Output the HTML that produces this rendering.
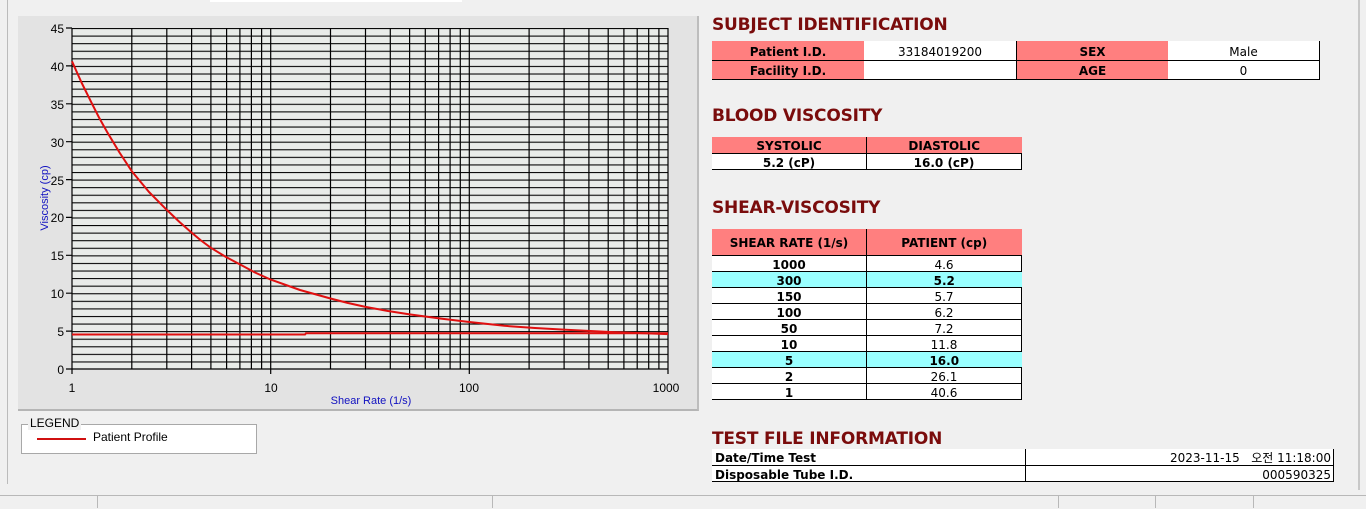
<!DOCTYPE html>
<html><head><meta charset="utf-8"><style>
body{margin:0;width:1366px;height:508px;background:#f0f0f0;position:relative;overflow:hidden;font-family:"Liberation Sans","Noto Sans CJK KR",sans-serif;}
.a{position:absolute}
h2{position:absolute;margin:0;font:bold 17px "DejaVu Sans","Liberation Sans",sans-serif;color:#7a0c0c;letter-spacing:-0.2px}
table{position:absolute;border-collapse:collapse;font-family:"DejaVu Sans","Liberation Sans",sans-serif;font-size:12px;color:#000}
td{padding:3px 0 0 0;text-align:center;line-height:12px;white-space:nowrap}
.p{background:#ff7f7f;font-weight:bold}
.w{background:#fff}
.c{background:#99ffff}
.b{font-weight:bold}
</style></head><body>
<div class="a" style="left:210px;top:0;width:252px;height:2px;background:#fff"></div>
<div class="a" style="left:7px;top:0;width:1px;height:484px;background:#bbb"></div>
<div class="a" style="left:18px;top:16px;width:679px;height:393px;background:#e3e3e3;border-right:2px solid #bdbdbd;border-bottom:2px solid #b5b5b5"></div>
<svg class="a" style="left:0;top:0" width="700" height="420">
<defs><pattern id="hp" patternUnits="userSpaceOnUse" x="0" y="28" width="600" height="7.5778"><line x1="0" y1="0.5" x2="600" y2="0.5" stroke="#000" stroke-width="1.2"/></pattern></defs>
<rect x="72" y="28" width="596" height="341" fill="#e9ece9"/>
<rect x="72" y="28" width="596" height="341" fill="url(#hp)"/>
<g stroke="#000" stroke-width="1.2">
<line x1="72" y1="28" x2="72" y2="374"/><line x1="668" y1="28" x2="668" y2="374"/><line x1="72" y1="369" x2="668" y2="369"/>
<line x1="270.7" y1="28" x2="270.7" y2="374"/><line x1="469.3" y1="28" x2="469.3" y2="374"/>
<path d="M131.8 28V369M166.8 28V369M191.6 28V369M210.9 28V369M226.6 28V369M239.9 28V369M251.4 28V369M261.6 28V369M330.5 28V369M365.5 28V369M390.3 28V369M409.6 28V369M425.3 28V369M438.6 28V369M450.1 28V369M460.3 28V369M529.1 28V369M564.1 28V369M588.9 28V369M608.2 28V369M623.9 28V369M637.2 28V369M648.7 28V369M658.9 28V369"/>
<path d="M66 28H72M66 65.9H72M66 103.8H72M66 141.7H72M66 179.6H72M66 217.4H72M66 255.3H72M66 293.2H72M66 331.1H72M66 369H72"/>
</g>
<g font-family="Liberation Sans Narrow,Liberation Sans,sans-serif" font-size="12" fill="#000" text-anchor="end">
<text x="64" y="33">45</text><text x="64" y="71">40</text><text x="64" y="109">35</text><text x="64" y="147">30</text><text x="64" y="185">25</text><text x="64" y="222">20</text><text x="64" y="260">15</text><text x="64" y="298">10</text><text x="64" y="336">5</text><text x="64" y="374">0</text>
</g>
<g font-family="Liberation Sans,sans-serif" font-size="12" fill="#000" text-anchor="middle">
<text x="72" y="392">1</text><text x="271" y="392">10</text><text x="469" y="392">100</text><text x="666" y="392">1000</text>
</g>
<text x="371" y="404" font-family="Liberation Sans,sans-serif" font-size="11" fill="#1010c0" text-anchor="middle">Shear Rate (1/s)</text>
<text transform="translate(48,198) rotate(-90)" font-family="Liberation Sans,sans-serif" font-size="11" fill="#1010c0" text-anchor="middle">Viscosity (cp)</text>
<polyline fill="none" stroke="#e01010" stroke-width="2" points="72,334.5 305,334.5 306,333.3 668,333.3"/>
<polyline fill="none" stroke="#e01010" stroke-width="2" stroke-linejoin="round" points="72,61.3 81.5,82.5 91.3,102.3 99,117.5 107,131.8 119.5,152.5 131.8,171.2 149,192 166.8,209.9 179.5,222 191.6,232.6 201,240.5 210.9,247.8 226,257 239.9,264.4 255,272.5 270.7,279.6 300,290 330.5,298.5 348,303 365.5,306.9 388,311 409.6,314.4 440,318.5 469.3,322 504.3,325.8 535,328 563.5,329.6 610,332 668,334.1"/>
</svg>
<div class="a" style="left:21px;top:424px;width:234px;height:28px;border:1px solid #a8a8a8;background:#fff"></div>
<div class="a" style="left:28px;top:416px;padding:0 2px;background:#f0f0f0;font-size:12px;line-height:14px">LEGEND</div>
<div class="a" style="left:37px;top:438px;width:49px;height:2px;background:#d01010"></div>
<div class="a" style="left:93px;top:430px;font-size:12px">Patient Profile</div>

<h2 style="left:712px;top:15px">SUBJECT IDENTIFICATION</h2>
<table style="left:712px;top:41px;width:608px">
<tr style="height:19px"><td class="p" style="width:152px">Patient I.D.</td><td class="w" style="width:152px;border-right:1px solid #000">33184019200</td><td class="p" style="width:151px">SEX</td><td class="w" style="border-right:1px solid #000">Male</td></tr>
<tr style="height:19px;border-top:1px solid #000;border-bottom:1px solid #000"><td class="p">Facility I.D.</td><td class="w" style="border-right:1px solid #000"></td><td class="p">AGE</td><td class="w" style="border-right:1px solid #000">0</td></tr>
</table>
<h2 style="left:712px;top:106px">BLOOD VISCOSITY</h2>
<table style="left:712px;top:137px;width:310px">
<tr style="height:16px"><td class="p" style="width:154px;border-right:1px solid #000">SYSTOLIC</td><td class="p">DIASTOLIC</td></tr>
<tr style="height:16px;border-top:1px solid #000;border-bottom:1px solid #000"><td class="w b" style="border-right:1px solid #000">5.2 (cP)</td><td class="w b" style="border-right:1px solid #000">16.0 (cP)</td></tr>
</table>
<h2 style="left:712px;top:198px">SHEAR-VISCOSITY</h2>
<table style="left:712px;top:229px;width:310px">
<tr style="height:26px;border-bottom:1px solid #000"><td class="p" style="width:154px;border-right:1px solid #000">SHEAR RATE (1/s)</td><td class="p">PATIENT (cp)</td></tr>
<tr style="height:16px;border-bottom:1px solid #000"><td class="w b" style="border-right:1px solid #000">1000</td><td class="w" style="border-right:1px solid #000">4.6</td></tr>
<tr style="height:16px;border-bottom:1px solid #000"><td class="c b" style="border-right:1px solid #000">300</td><td class="c b">5.2</td></tr>
<tr style="height:16px;border-bottom:1px solid #000"><td class="w b" style="border-right:1px solid #000">150</td><td class="w" style="border-right:1px solid #000">5.7</td></tr>
<tr style="height:16px;border-bottom:1px solid #000"><td class="w b" style="border-right:1px solid #000">100</td><td class="w" style="border-right:1px solid #000">6.2</td></tr>
<tr style="height:16px;border-bottom:1px solid #000"><td class="w b" style="border-right:1px solid #000">50</td><td class="w" style="border-right:1px solid #000">7.2</td></tr>
<tr style="height:16px;border-bottom:1px solid #000"><td class="w b" style="border-right:1px solid #000">10</td><td class="w" style="border-right:1px solid #000">11.8</td></tr>
<tr style="height:16px;border-bottom:1px solid #000"><td class="c b" style="border-right:1px solid #000">5</td><td class="c b">16.0</td></tr>
<tr style="height:16px;border-bottom:1px solid #000"><td class="w b" style="border-right:1px solid #000">2</td><td class="w" style="border-right:1px solid #000">26.1</td></tr>
<tr style="height:16px;border-bottom:1px solid #000"><td class="w b" style="border-right:1px solid #000">1</td><td class="w" style="border-right:1px solid #000">40.6</td></tr>
</table>
<h2 style="left:712px;top:429px">TEST FILE INFORMATION</h2>
<table style="left:712px;top:449px;width:622px">
<tr style="height:16px;border-bottom:1px solid #000"><td class="w b" style="width:310px;text-align:left;padding-left:3px;border-right:1px solid #000">Date/Time Test</td><td class="w" style="text-align:right;padding-right:2px;border-right:1px solid #000">2023-11-15&nbsp;&nbsp;&nbsp;오전 11:18:00</td></tr>
<tr style="height:16px;border-bottom:1px solid #000"><td class="w b" style="text-align:left;padding-left:3px;border-right:1px solid #000">Disposable Tube I.D.</td><td class="w" style="text-align:right;padding-right:2px;border-right:1px solid #000">000590325</td></tr>
</table>
<div class="a" style="left:1358px;top:0;width:2px;height:490px;background:#c8c8c8"></div>
<div class="a" style="left:0;top:495px;width:1366px;height:13px;background:#f0f0f0;border-top:1px solid #b8b8b8"></div>
<div class="a" style="left:97px;top:496px;width:1px;height:12px;background:#b8b8b8"></div>
<div class="a" style="left:492px;top:496px;width:1px;height:12px;background:#b8b8b8"></div>
<div class="a" style="left:1058px;top:496px;width:1px;height:12px;background:#b8b8b8"></div>
<div class="a" style="left:1155px;top:496px;width:1px;height:12px;background:#b8b8b8"></div>
<div class="a" style="left:1253px;top:496px;width:1px;height:12px;background:#b8b8b8"></div>
</body></html>
